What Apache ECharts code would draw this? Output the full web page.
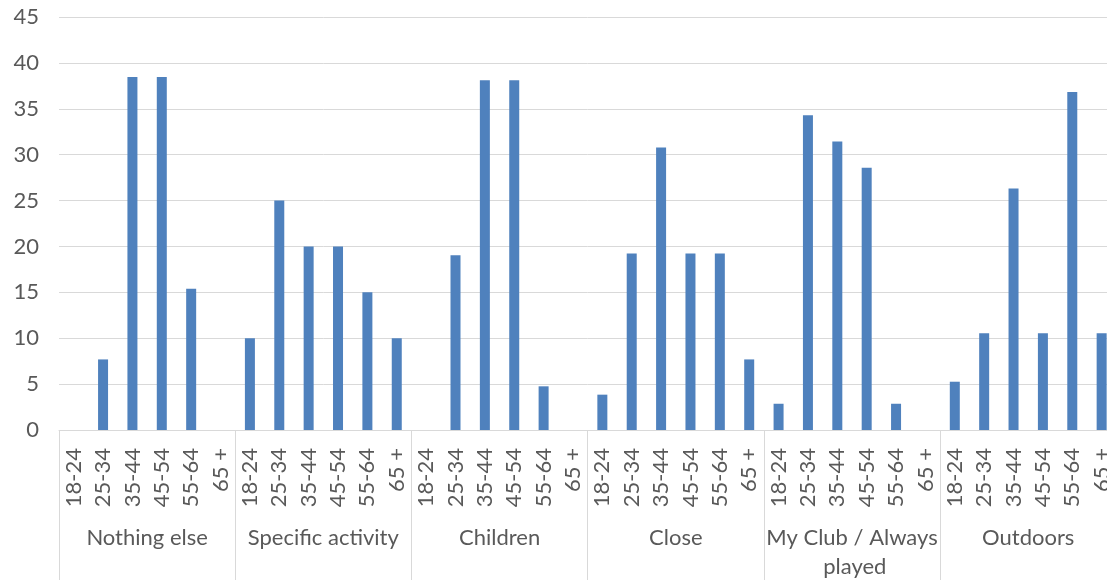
<!DOCTYPE html>
<html>
<head>
<meta charset="utf-8">
<script src="https://cdn.jsdelivr.net/npm/echarts@6/dist/echarts.min.js"></script>
<style>
  html, body { margin: 0; padding: 0; background: #fff; overflow: hidden; }
  #chart { width: 1119px; height: 581px; }
</style>
</head>
<body>
<div id="chart"></div>
<script>
// age bands shown under every group
const ageBands = ['18-24', '25-34', '35-44', '45-54', '55-64', '65 +'];
// reason groups (outer axis level)
const groups = ['Nothing else', 'Specific activity', 'Children', 'Close', 'My Club / Always played', 'Outdoors'];
// percentage per age band, one list per group
const nothingElse = [0, 7.69, 38.46, 38.46, 15.38, 0];
const specificActivity = [10, 25, 20, 20, 15, 10];
const children = [0, 19.05, 38.1, 38.1, 4.76, 0];
const close = [3.85, 19.23, 30.77, 19.23, 19.23, 7.69];
const myClub = [2.86, 34.29, 31.43, 28.57, 2.86, 0];
const outdoors = [5.26, 10.53, 26.32, 10.53, 36.84, 10.53];
const yTicks = { min: 0, max: 45, step: 5 };

const groupValues = [nothingElse, specificActivity, children, close, myClub, outdoors];
const innerCats = [];
const values = [];
groups.forEach((g, gi) => {
  ageBands.forEach((a, ai) => {
    innerCats.push(a);
    values.push(groupValues[gi][ai]);
  });
});

const font = 'Lato';
const textColor = '#595959';
const lineColor = '#d9d9d9';

const chart = echarts.init(document.getElementById('chart'));
chart.setOption({
  animation: false,
  grid: { left: 59, right: 0, top: 17, bottom: 148, containLabel: false },
  xAxis: [
    {
      type: 'category',
      data: innerCats,
      position: 'bottom',
      axisLine: { show: true, lineStyle: { color: lineColor, width: 1 } },
      axisTick: { show: false },
      axisLabel: {
        interval: 0,
        rotate: 90,
        margin: 18,
        color: textColor,
        fontFamily: font,
        fontSize: 22
      }
    },
    {
      type: 'category',
      data: groups,
      position: 'bottom',
      axisLine: { show: false },
      axisTick: { show: true, length: 150, lineStyle: { color: lineColor, width: 1 } },
      axisLabel: {
        interval: 0,
        margin: 93,
        color: textColor,
        fontFamily: font,
        fontSize: 22,
        lineHeight: 29,
        width: 176,
        overflow: 'break',
        verticalAlign: 'top'
      }
    }
  ],
  yAxis: {
    type: 'value',
    min: yTicks.min,
    max: yTicks.max,
    interval: yTicks.step,
    axisLine: { show: false },
    axisTick: { show: false },
    splitLine: { lineStyle: { color: lineColor, width: 1 } },
    axisLabel: { margin: 20, color: textColor, fontFamily: font, fontSize: 22 }
  },
  series: [
    {
      type: 'bar',
      xAxisIndex: 0,
      data: values,
      barWidth: 10,
      itemStyle: { color: '#4f81bd' }
    }
  ]
});
</script>
</body>
</html>
